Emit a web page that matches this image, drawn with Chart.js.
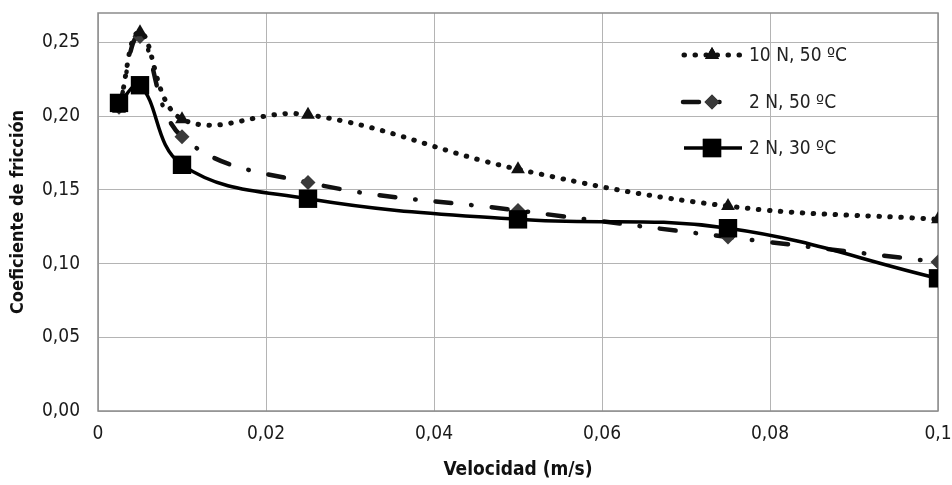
<!DOCTYPE html>
<html>
<head>
<meta charset="utf-8">
<script src="https://cdn.jsdelivr.net/npm/chart.js@4"></script>
<style>
  html, body { margin: 0; padding: 0; background: #fff; }
  #wrap { width: 952px; height: 485px; }
</style>
</head>
<body>
<div id="wrap"><canvas id="friccionChart" width="952" height="485"></canvas></div>
<script>
// datos
const velocidad = [0.0025, 0.005, 0.01, 0.025, 0.05, 0.075, 0.1];
const serie10N50 = [0.205, 0.257, 0.198, 0.201, 0.164, 0.139, 0.130];
const serie2N50 = [0.206, 0.254, 0.186, 0.155, 0.136, 0.118, 0.101];
const serie2N30 = [0.209, 0.221, 0.167, 0.144, 0.130, 0.124, 0.090];
const etiquetas = ["10 N, 50 ºC", "2 N, 50 ºC", "2 N, 30 ºC"];

const FONT = "'Liberation Sans Narrow', 'DejaVu Sans Condensed', 'Open Sans', sans-serif";

function puntos(ys) {
  return velocidad.map((x, i) => ({ x: x, y: ys[i] }));
}

function coma(v, dec) {
  return v.toFixed(dec).replace(".", ",");
}

// leyenda propia dentro del area del grafico
const leyenda = {
  id: "leyenda",
  afterDraw(chart) {
    const c = chart.ctx;
    const filas = [55, 102, 148];
    chart.data.datasets.forEach((ds, i) => {
      const y = filas[i];
      c.save();
      c.strokeStyle = ds.borderColor;
      c.lineWidth = ds.borderWidth;
      c.lineCap = ds.borderCapStyle || "butt";
      c.setLineDash(ds.borderDash || []);
      c.beginPath();
      c.moveTo(i === 1 ? 683 : 684, y);
      c.lineTo(i === 1 ? 725 : 742, y);
      c.stroke();
      c.restore();
      Chart.helpers.drawPoint(c, {
        pointStyle: ds.pointStyle, radius: ds.pointRadius, rotation: 0, borderWidth: 0
      }, 712, y);
      c.fillStyle = ds.pointBackgroundColor;
      c.fill();
      c.fillStyle = "#222";
      c.font = "19px " + FONT;
      c.textBaseline = "middle";
      c.fillText(ds.label, 749, y + 1);
    });
  }
};

// borde gris alrededor del area de trazado
const marco = {
  id: "marco",
  beforeDatasetsDraw(chart) {
    const a = chart.chartArea, c = chart.ctx;
    c.save();
    c.strokeStyle = "#8c8c8c";
    c.lineWidth = 1.5;
    c.strokeRect(a.left, a.top, a.right - a.left, a.bottom - a.top);
    c.restore();
  }
};

function setup() {
  const ctx = document.getElementById("friccionChart").getContext("2d");
  new Chart(ctx, {
    type: "line",
    data: {
      datasets: [
        {
          label: etiquetas[0], data: puntos(serie10N50), order: 1,
          borderColor: "#111", borderWidth: 5, borderDash: [0.5, 10.5], borderCapStyle: "round",
          pointStyle: "triangle", pointRadius: 8, pointBackgroundColor: "#111", pointBorderWidth: 0,
          tension: 0.4, fill: false
        },
        {
          label: etiquetas[1], data: puntos(serie2N50), order: 2,
          borderColor: "#111", borderWidth: 4.5, borderDash: [16, 20, 0.5, 20], borderCapStyle: "round",
          pointStyle: "rectRot", pointRadius: 7.5, pointBackgroundColor: "#3a3a3a", pointBorderWidth: 0,
          tension: 0.4, fill: false
        },
        {
          label: etiquetas[2], data: puntos(serie2N30), order: 0,
          borderColor: "#000", borderWidth: 3.5,
          pointStyle: "rect", pointRadius: 13, pointBackgroundColor: "#000", pointBorderWidth: 0,
          tension: 0.4, fill: false
        }
      ]
    },
    options: {
      responsive: false,
      animation: false,
      layout: { padding: { top: 10, right: 14, left: 0, bottom: 0 } },
      plugins: { legend: { display: false }, tooltip: { enabled: false } },
      scales: {
        x: {
          type: "linear", min: 0, max: 0.1,
          ticks: {
            stepSize: 0.02, color: "#1a1a1a", padding: 12,
            font: { family: FONT, size: 19 },
            callback: v => v === 0 ? "0" : String(parseFloat(v.toFixed(2))).replace(".", ",")
          },
          grid: { color: "#b4b4b4", lineWidth: 1, drawTicks: false },
          border: { display: false },
          title: {
            display: true, text: "Velocidad (m/s)", color: "#111",
            font: { family: FONT, size: 19, weight: "bold" }, padding: { top: 4 }
          },
          afterFit: s => { s.height = 74; s.paddingLeft = 0; s.paddingRight = 0; }
        },
        y: {
          min: 0, max: 0.27,
          ticks: {
            stepSize: 0.05, color: "#1a1a1a", padding: 18,
            font: { family: FONT, size: 19 },
            callback: v => coma(v, 2)
          },
          afterBuildTicks: s => {
            s.ticks = s.ticks.filter(t => Math.abs(t.value / 0.05 - Math.round(t.value / 0.05)) < 1e-6);
          },
          grid: { color: "#b4b4b4", lineWidth: 1, drawTicks: false },
          border: { display: false },
          title: {
            display: true, text: "Coeficiente de fricción", color: "#111",
            font: { family: FONT, size: 18, weight: "bold" }, padding: { top: 8, bottom: 0 }
          },
          afterFit: s => { s.width = 98; s.paddingTop = 0; s.paddingBottom = 0; }
        }
      }
    },
    plugins: [marco, leyenda]
  });
}

window.onload = setup;
</script>
</body>
</html>
